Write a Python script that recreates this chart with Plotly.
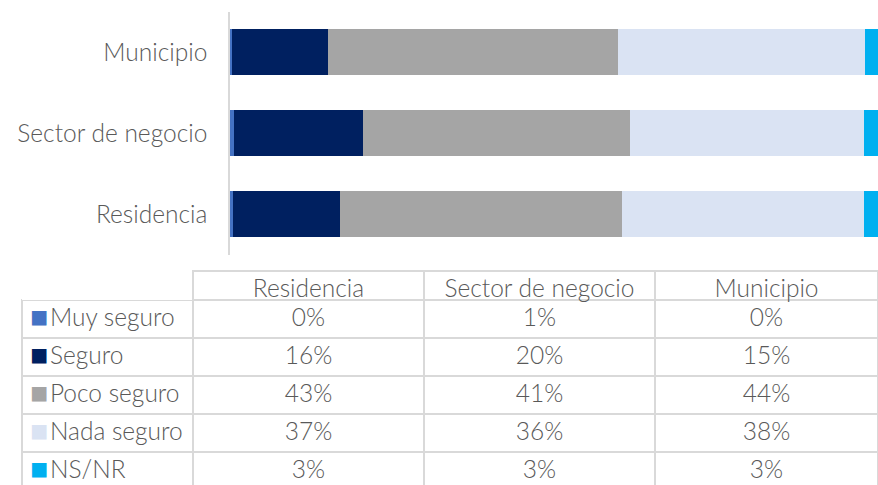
import plotly.graph_objects as go

categories = ["Residencia", "Sector de negocio", "Municipio"]
series_names = ["Muy seguro", "Seguro", "Poco seguro", "Nada seguro", "NS/NR"]
colors = ["#4472C4", "#002060", "#A5A5A5", "#DAE3F3", "#00B0F0"]

muy_seguro = [0.4, 0.6, 0.3]
seguro = [16.4, 19.7, 14.7]
poco_seguro = [43.1, 40.9, 44.4]
nada_seguro = [37.0, 35.8, 37.7]
ns_nr = [3.1, 3.0, 2.9]

series_values = [muy_seguro, seguro, poco_seguro, nada_seguro, ns_nr]

FONT = "Lato"
TXT = "#595959"
FS = 24.5
W, H = 878, 485
TABLE_TOP = 1 - 271 / H

fig = go.Figure()
for name, vals, col in zip(series_names, series_values, colors):
    fig.add_trace(go.Bar(
        y=categories, x=vals, name=name, orientation="h",
        marker=dict(color=col, line=dict(width=0)),
        showlegend=False, hoverinfo="skip",
    ))

# data table built from the same series
header_vals = [""] + categories
first_col = ["\u00a0\u00a0\u00a0" + n.replace(" ", "\u00a0") for n in series_names]
cols = [first_col]
for i in range(len(categories)):
    cols.append([f"{round(v[i]):.0f}%" for v in series_values])

line_col = "#D9D9D9"
tfont = dict(family=FONT, size=FS, color=TXT, weight=300)
fig.add_trace(go.Table(
    domain=dict(x=[22 / W, 1], y=[0, TABLE_TOP]),
    columnwidth=[171, 231, 231, 223],
    header=dict(
        values=header_vals,
        height=29,
        align=["left", "center", "center", "center"],
        line=dict(color=["rgba(0,0,0,0)", line_col, line_col, line_col], width=1.5),
        fill=dict(color="white"),
        font=tfont,
    ),
    cells=dict(
        values=cols,
        height=38,
        align=["left", "center", "center", "center"],
        line=dict(color=line_col, width=1.5),
        fill=dict(color="white"),
        font=tfont,
    ),
))

# legend keys (coloured squares) overlaid on the first column
fig.add_trace(go.Table(
    domain=dict(x=[22 / W, 70 / W], y=[0, TABLE_TOP]),
    columnwidth=[1],
    header=dict(values=[""], height=25, line=dict(color="rgba(0,0,0,0)", width=0),
                fill=dict(color="rgba(0,0,0,0)")),
    cells=dict(
        values=[["■"] * len(series_names)],
        height=38,
        align="left",
        line=dict(color="rgba(0,0,0,0)", width=0),
        fill=dict(color="rgba(0,0,0,0)"),
        font=dict(family="DejaVu Sans", size=30, color=[colors]),
    ),
))

fig.update_layout(
    width=W, height=H,
    margin=dict(l=0, r=0, t=0, b=0),
    barmode="stack",
    bargap=0.432,
    paper_bgcolor="white",
    plot_bgcolor="white",
    font=dict(family=FONT, color=TXT, size=FS, weight=300),
    xaxis=dict(domain=[230 / W, 1], range=[0, 99.08], showgrid=False,
               showticklabels=False, zeroline=False, showline=False),
    yaxis=dict(domain=[1 - 254.5 / H, 1 - 11.5 / H], showgrid=False,
               showline=True, linecolor="#D9D9D9", linewidth=1.5,
               ticks="", ticklabelstandoff=16, automargin=False,
               tickfont=tfont),
)

fig.write_html("out.html", config={"displayModeBar": False},
               post_script="document.body.style.margin='0';")
